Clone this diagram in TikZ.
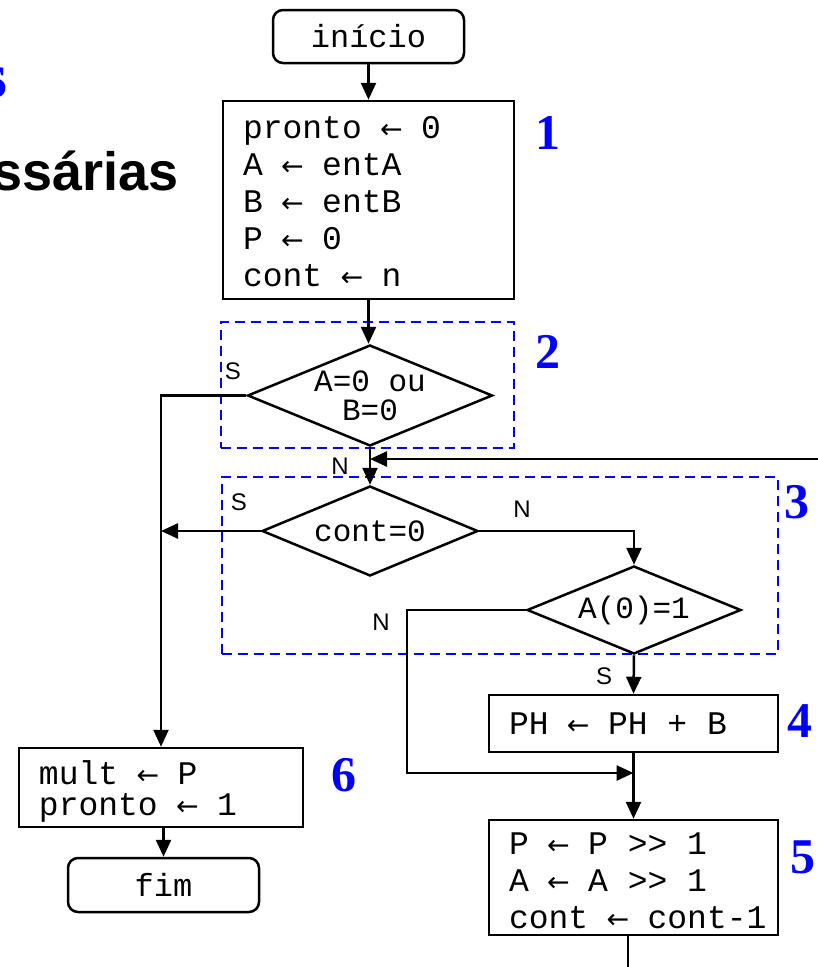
\documentclass[tikz,border=0pt]{standalone}
\usepackage{fontspec}
\setmainfont{Liberation Serif}
\newfontfamily\monof{Liberation Mono}
\newfontfamily\sansf{Liberation Sans}
\newfontfamily\seriff{Liberation Serif}
\newfontfamily\arrf{DejaVu Sans}
\newcommand{\lar}{\makebox[0.6em][c]{\arrf\fontsize{27}{27}\selectfont ←}}
\newcommand{\msp}{\hspace*{0.6em}}
\newcommand{\codelines}[2][0pt]{\vspace*{#1}\begin{tabular}{@{\hspace*{20pt}}l@{}}#2\end{tabular}}
\usetikzlibrary{arrows.meta,shapes.geometric,calc}
\begin{document}
\begin{tikzpicture}[x=1pt,y=-1pt,
  lw/.style={line width=2.5pt},
  arr/.style={lw,-{Triangle[length=17pt,width=15pt]}},
  plain/.style={lw},
  pbox/.style={draw,lw,align=left,inner sep=0pt,
     font=\monof\fontsize{33}{37}\selectfont},
  term/.style={draw,lw,rounded corners=10pt,inner sep=0pt,
     font=\monof\fontsize{32}{32}\selectfont},
  dec/.style={draw,lw,shape=diamond,inner sep=0pt},
  dectext/.style={inner sep=0pt,align=center,font=\monof\fontsize{31}{29}\selectfont},
  dashbox/.style={draw=blue,line width=2pt,dash pattern=on 10pt off 6pt,inner sep=0pt},
  num/.style={text=blue,inner sep=0pt,font=\seriff\bfseries\fontsize{50}{50}\selectfont},
  lab/.style={inner sep=0pt,font=\sansf\fontsize{24}{24}\selectfont}]
\useasboundingbox (0,0) rectangle (818,967);

% partial title texts
\node[anchor=base east,inner sep=0pt,text=blue,font=\seriff\bfseries\fontsize{64}{64}\selectfont] (ttl1) at (8,97) {s};
\node[anchor=base east,inner sep=0pt,font=\sansf\bfseries\fontsize{54}{54}\selectfont] (ttl2) at (179,190) {ssárias};

% dashed groups
\node[dashbox,minimum width=293pt,minimum height=126pt] (g2) at (367.5,385) {};
\node[dashbox,minimum width=556pt,minimum height=177pt] (g3) at (500,565.5) {};

% nodes
\node[term,minimum width=191pt,minimum height=53pt] (ini) at (368.5,36.5) {início};
\node[pbox,text width=291pt,minimum height=198pt] (b1) at (368.5,200) {\codelines[-10pt]{pronto\msp\lar\msp 0\\A\msp\lar\msp entA\\B\msp\lar\msp entB\\P\msp\lar\msp 0\\cont\msp\lar\msp n}};
\node[dec,minimum width=245pt,minimum height=101pt] (d2) at (370,395.5) {};
\node[dectext] (d2t) at (d2) {A=0\msp ou\\B=0};
\node[dec,minimum width=216pt,minimum height=90pt] (d3) at (370,531) {};
\node[dectext] (d3t) at (d3) {cont=0};
\node[dec,minimum width=214pt,minimum height=88pt] (d4) at (634,610) {};
\node[dectext] (d4t) at (d4) {A(0)=1};
\node[pbox,text width=289pt,minimum height=57pt] (b4) at (633.5,723.5) {\codelines[-8pt]{PH\msp\lar\msp PH\msp +\msp B}};
\node[pbox,text width=289pt,minimum height=115pt,font=\monof\fontsize{33}{37}\selectfont] (b5) at (633.5,877.5) {\codelines[-14pt]{P\msp\lar\msp P\msp >>\msp 1\\A\msp\lar\msp A\msp >>\msp 1\\cont\msp\lar\msp cont-1}};
\node[pbox,text width=284pt,minimum height=79pt,font=\monof\fontsize{33}{30}\selectfont] (b6) at (161,787.5) {\codelines[-10pt]{mult\msp\lar\msp P\\pronto\msp\lar\msp 1}};
\node[term,minimum width=191pt,minimum height=54pt] (fim) at (163.5,885) {fim};

% numbers
\node[num] (n1) at (548,133) {1};
\node[num] (n2) at (548,352) {2};
\node[num] (n3) at (797,502) {3};
\node[num] (n4) at (800,721) {4};
\node[num] (n5) at (803,857) {5};
\node[num] (n6) at (344,775) {6};

% branch labels
\node[lab] (s1) at (233,371) {S};
\node[lab] (l1) at (340,466) {N};
\node[lab] (s2) at (239,502) {S};
\node[lab] (l2) at (522,509) {N};
\node[lab] (l3) at (381,622) {N};
\node[lab] (s3) at (604,676) {S};

% helper coordinates
\coordinate (loopR) at (830,459);
\coordinate (nleft) at (407,773);
\coordinate (join5) at (633.5,773);
\coordinate (bend) at (628,980);

% connectors
\draw[arr] (ini.south) -- (b1.north);
\draw[arr] (b1.south) -- (b1.south |- d2.north);
\draw[arr] (d2.west) -| (b6.north);
\draw[arr] (d2.south) -- (d3.north);
\draw[arr] (loopR) -- (d2.south |- loopR);
\draw[arr] (d3.west) -- (d3.west -| b6.north);
\draw[arr] (d3.east) -| (d4.north);
\draw[arr] (d4.south) -- (b4.north);
\draw[arr] (d4.west) -| (nleft) -- (join5);
\draw[arr] (b4.south) -- (b5.north);
\draw[plain] ([xshift=-5.5pt]b5.south) -- (bend);
\draw[arr] (b6.south -| fim.north) -- (fim.north);
\end{tikzpicture}
\end{document}
